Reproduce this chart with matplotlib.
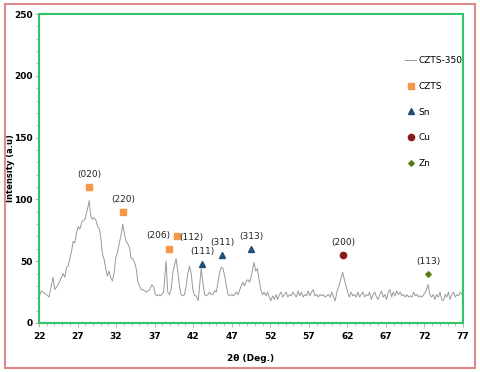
import matplotlib
matplotlib.use('Agg')
import matplotlib.pyplot as plt
from matplotlib.patches import Rectangle
from matplotlib.ticker import MultipleLocator, FixedLocator
import numpy as np

plt.rcParams['font.family'] = ['Liberation Sans Narrow', 'DejaVu Sans']

# XRD pattern CZTS-350
two_theta = [22.00, 22.30, 22.52, 22.96, 23.30, 23.83, 24.04, 24.48, 24.91, 25.13,
             25.35, 25.57, 25.78, 26.00, 26.22, 26.43, 26.65, 26.87, 27.09, 27.30,
             27.52, 27.74, 27.96, 28.17, 28.39, 28.52, 28.70, 28.91, 29.17, 29.39,
             29.61, 29.83, 30.04, 30.22, 30.43, 30.65, 30.87, 31.09, 31.30, 31.52,
             31.74, 31.96, 32.17, 32.39, 32.61, 32.87, 33.09, 33.30, 33.52, 33.74,
             33.96, 34.17, 34.39, 34.61, 34.83, 35.04, 35.26, 35.48, 35.70, 35.91,
             36.13, 36.35, 36.65, 36.87, 37.09, 37.30, 37.52, 37.74, 37.96, 38.17,
             38.48, 38.70, 38.91, 39.13, 39.39, 39.78, 40.00, 40.22, 40.43, 40.65,
             40.87, 41.09, 41.30, 41.52, 41.74, 41.96, 42.17, 42.39, 42.65, 42.83,
             43.04, 43.26, 43.48, 43.70, 43.91, 44.13, 44.35, 44.57, 44.78, 45.00,
             45.22, 45.43, 45.65, 45.87, 46.09, 46.30, 46.52, 46.74, 46.96, 47.17,
             47.39, 47.61, 47.83, 48.04, 48.25, 48.45, 48.67, 48.89, 49.11, 49.32,
             49.54, 49.89, 50.11, 50.33, 50.55, 50.77, 50.99, 51.21, 51.43, 51.65,
             51.87, 52.09, 52.31, 52.53, 52.75, 52.96, 53.18, 53.40, 53.62, 53.84,
             54.06, 54.28, 54.50, 54.72, 54.94, 55.16, 55.38, 55.60, 55.82, 56.04,
             56.25, 56.47, 56.69, 56.91, 57.13, 57.35, 57.57, 57.79, 58.01, 58.23,
             58.45, 58.67, 58.89, 59.11, 59.32, 59.54, 59.76, 59.98, 60.20, 60.42,
             60.64, 60.86, 61.08, 61.39, 61.61, 61.82, 62.04, 62.26, 62.48, 62.70,
             62.92, 63.14, 63.36, 63.58, 63.80, 64.02, 64.24, 64.46, 64.68, 64.89,
             65.11, 65.33, 65.55, 65.77, 65.99, 66.21, 66.43, 66.65, 66.87, 67.09,
             67.31, 67.53, 67.75, 67.96, 68.18, 68.40, 68.62, 68.84, 69.06, 69.28,
             69.50, 69.72, 69.94, 70.16, 70.38, 70.60, 70.82, 71.04, 71.25, 71.47,
             71.69, 71.91, 72.13, 72.48, 72.70, 72.92, 73.14, 73.36, 73.58, 73.80,
             74.02, 74.24, 74.46, 74.68, 74.89, 75.11, 75.33, 75.55, 75.77, 75.99,
             76.21, 76.43, 76.65, 76.87, 77.00]
intensity = [21, 26, 25, 23, 21, 37, 27, 31, 37, 40,
             37, 45, 46, 52, 58, 66, 65, 73, 78, 76,
             81, 83, 84, 89, 95, 99, 87, 84, 85, 83,
             78, 76, 68, 56, 52, 44, 38, 42, 37, 34,
             40, 53, 57, 64, 70, 80, 72, 66, 64, 61,
             52, 52, 49, 44, 33, 30, 27, 27, 26, 25,
             26, 27, 31, 29, 23, 22, 23, 22, 23, 25,
             50, 25, 23, 27, 42, 52, 42, 30, 23, 22,
             23, 30, 40, 46, 40, 27, 22, 22, 18, 30,
             44, 33, 23, 22, 23, 25, 23, 23, 26, 25,
             33, 41, 45, 44, 38, 30, 23, 22, 23, 22,
             23, 25, 23, 27, 30, 33, 30, 34, 35, 33,
             38, 49, 42, 44, 35, 27, 23, 25, 22, 25,
             21, 18, 22, 19, 23, 19, 23, 25, 21, 23,
             25, 21, 23, 22, 25, 23, 21, 26, 22, 25,
             21, 23, 22, 26, 22, 25, 27, 22, 23, 21,
             23, 22, 23, 21, 22, 23, 21, 25, 21, 18,
             25, 29, 34, 41, 35, 30, 25, 21, 25, 22,
             23, 21, 25, 21, 23, 25, 21, 23, 22, 25,
             19, 23, 25, 21, 19, 23, 26, 21, 23, 19,
             25, 27, 21, 25, 22, 26, 23, 25, 22, 23,
             21, 23, 21, 22, 21, 25, 22, 23, 21, 22,
             21, 23, 25, 31, 23, 21, 23, 19, 23, 21,
             25, 19, 18, 23, 21, 25, 19, 23, 25, 21,
             23, 22, 25, 23, 22]

# phase markers (x, y, label)
czts_x = [28.48, 32.96, 38.83, 39.91]
czts_y = [110, 90, 60, 70]
czts_lbl = ['(020)', '(220)', '(206)', '(112)']
sn_x = [43.17, 45.78, 49.54]
sn_y = [48, 55, 60]
sn_lbl = ['(111)', '(311)', '(313)']
cu_x = [61.47]
cu_y = [55]
cu_lbl = ['(200)']
zn_x = [72.48]
zn_y = [40]
zn_lbl = ['(113)']

fig = plt.figure(figsize=(4.8, 3.72), dpi=100)
ax = fig.add_axes([39/480, 49/372, 424/480, 309/372])

ax.plot(two_theta, intensity, color='#999999', lw=0.7, label='CZTS-350')
ax.plot(czts_x, czts_y, 's', color='#f79646', ms=4, ls='none', label='CZTS')
ax.plot(sn_x, sn_y, '^', color='#1f4e79', ms=4, ls='none', label='Sn')
ax.plot(cu_x, cu_y, 'o', color='#8b1a1a', ms=4.5, ls='none', label='Cu')
ax.plot(zn_x, zn_y, 'D', color='#5a7a1a', ms=2.8, ls='none', label='Zn')

# hkl labels above markers
offsets = {'(206)': (-1.3, 11), '(112)': (1.9, -1)}
for xs, ys, lbls in [(czts_x, czts_y, czts_lbl), (sn_x, sn_y, sn_lbl),
                     (cu_x, cu_y, cu_lbl), (zn_x, zn_y, zn_lbl)]:
    for x, y, t in zip(xs, ys, lbls):
        dx, dy = offsets.get(t, (0, 10))
        ax.text(x + dx, y + dy, t, fontsize=6.5, ha='center', va='center', color='#222222')

ax.set_xlim(22, 77)
ax.set_ylim(0, 250)
ax.xaxis.set_major_locator(FixedLocator(np.arange(22, 78, 5)))
ax.xaxis.set_minor_locator(MultipleLocator(1))
ax.yaxis.set_major_locator(MultipleLocator(50))
ax.yaxis.set_minor_locator(MultipleLocator(10))
ax.tick_params(which='both', direction='out', color='#aaaaaa', labelsize=6.5)
ax.tick_params(which='major', length=3, width=0.6)
ax.tick_params(axis='y', pad=1.5)
ax.tick_params(which='minor', length=2, width=0.5)
for lab in ax.get_xticklabels() + ax.get_yticklabels():
    lab.set_fontweight('bold')

for s in ax.spines.values():
    s.set_color('#33c46a')
    s.set_linewidth(1.5)

ax.set_xlabel('2θ (Deg.)', fontsize=6.5, fontweight='bold', labelpad=9)
ax.set_ylabel('Intensity (a.u)', fontsize=6, fontweight='bold')
ax.yaxis.set_label_coords(-0.056, 0.5)

ax.legend(loc='upper left', bbox_to_anchor=(0.853, 0.878), frameon=False, fontsize=6.5,
          handlelength=1.2, handletextpad=0.3, labelspacing=1.85, borderpad=0)

fig.patches.append(Rectangle((5/480, 4/372), 470/480, 364/372, transform=fig.transFigure,
                             fill=False, edgecolor='#dc8a8a', lw=1.5))

fig.savefig('out.png', dpi=100)
